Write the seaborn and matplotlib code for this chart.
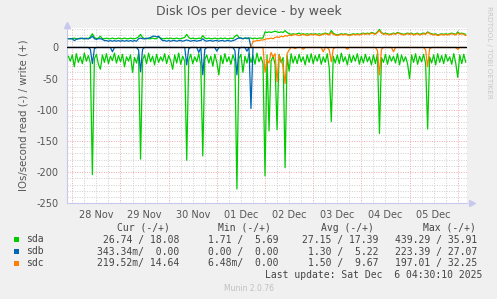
import numpy as np
import pandas as pd
import seaborn as sns
import matplotlib
matplotlib.use("Agg")
import matplotlib.pyplot as plt
from matplotlib.patches import Rectangle

sns.set_theme(style="white")
plt.rcParams['font.family'] = ['DejaVu Sans']

# ---------------- data (hourly samples, hour 0 = 28 Nov 00:00) ----------------
START_HOUR = -2
# sda reads (shown negative)
sda_read = [14, 22,
    12, 31, 10, 24, 15, 26, 9, 22, 13, 25, 204, 18, 11, 27, 35, 12, 24, 10, 26, 14, 21, 9, 25, 13,
    23, 11, 31, 15, 22, 12, 40, 16, 25, 10, 179, 20, 12, 26, 9, 23, 14, 28, 11, 24, 15, 22, 10, 26,
    13, 21, 35, 12, 25, 9, 27, 14, 22, 181, 20, 11, 26, 15, 23, 10, 28, 174, 19, 12, 25, 14, 30, 11,
    24, 44, 13, 26, 10, 23, 15, 27, 12, 22, 227, 18, 11, 40, 14, 25, 10, 24, 13, 27, 9, 23, 15, 26,
    206, 12, 134, 22, 14, 27, 132, 11, 24, 16, 193, 13, 38, 10, 25, 14, 26, 11, 23, 15, 28, 12, 24, 10,
    26, 13, 22, 11, 27, 15, 24, 10, 33, 119, 14, 25, 12, 26, 9, 23, 15, 28, 11, 24, 13, 22, 10, 27,
    14, 25, 11, 23, 15, 28, 12, 26, 10, 138, 16, 24, 11, 27, 13, 22, 14, 25, 10, 28, 12, 23, 15, 26,
    50, 12, 24, 10, 27, 14, 23, 11, 26, 131, 15, 25, 12, 28, 10, 24, 13, 26, 11, 22, 15, 27, 10, 25,
    48, 12, 26, 11, 24]
sda_write = [14, 14,
    14, 15, 14, 14, 15, 14, 14, 15, 14, 17, 22, 16, 14, 15, 18, 14, 14, 15, 14, 14, 15, 14, 14, 15,
    14, 14, 15, 14, 14, 15, 14, 14, 15, 17, 21, 16, 14, 15, 14, 14, 15, 14, 14, 17, 15, 14, 14, 15,
    14, 15, 14, 14, 15, 14, 14, 15, 16, 21, 16, 14, 15, 14, 14, 15, 14, 19, 15, 14, 15, 14, 14, 15,
    14, 14, 15, 14, 15, 14, 14, 15, 14, 18, 20, 16, 15, 14, 15, 14, 15, 15, 14, 15, 14, 15, 15, 15,
    25, 24, 25, 24, 25, 26, 25, 24, 25, 24, 27, 24, 22, 21, 22, 21, 22, 23, 21, 22, 21, 22, 21, 22,
    21, 22, 21, 22, 21, 22, 23, 22, 21, 27, 23, 21, 20, 21, 22, 21, 22, 21, 20, 21, 22, 21, 22, 21,
    22, 23, 22, 23, 22, 24, 23, 22, 25, 29, 24, 22, 23, 22, 21, 22, 23, 22, 24, 23, 22, 21, 22, 23,
    22, 23, 21, 22, 23, 21, 22, 23, 22, 25, 23, 22, 21, 22, 20, 21, 22, 21, 22, 21, 22, 23, 22, 21,
    25, 22, 23, 22, 21]
# sdb (hours -2 .. 90)
sdb_read = [0, 0,
    0, 0, 0, 0, 0, 0, 0, 0, 0, 3, 26, 2, 0, 0, 0, 0, 0, 0, 0, 0, 7, 0, 0, 0,
    0, 0, 0, 0, 0, 0, 0, 0, 0, 4, 39, 3, 0, 0, 0, 0, 0, 0, 0, 0, 0, 0, 0, 0,
    0, 0, 0, 0, 0, 0, 0, 0, 0, 28, 2, 0, 0, 0, 0, 8, 0, 44, 3, 0, 0, 0, 0, 0,
    6, 0, 0, 0, 0, 0, 0, 0, 0, 5, 44, 2, 0, 0, 0, 6, 0, 98, 0]
sdb_write = [14, 14,
    14, 11, 13, 14, 14, 15, 14, 14, 14, 15, 18, 14, 13, 14, 14, 13, 11, 11, 10, 11, 10, 11, 10, 11,
    10, 11, 10, 11, 10, 11, 10, 11, 10, 14, 15, 14, 14, 14, 15, 16, 18, 18, 17, 18, 14, 11, 11, 10,
    11, 10, 11, 11, 10, 11, 11, 10, 11, 12, 11, 10, 11, 11, 10, 11, 11, 14, 11, 10, 11, 11, 10, 11,
    11, 10, 11, 11, 10, 11, 11, 10, 11, 12, 14, 15, 15, 14, 15, 15, 15, 0, 0]
# sdc (hours 89 .. 196)
SDC_START = 89
sdc_read = [0, 0, 0, 0, 0, 0, 0,
    40, 20, 25, 8, 15, 10, 55, 12, 20, 30, 58, 10, 4, 0, 0, 2, 0, 0, 0, 3, 0, 0, 0, 0,
    0, 0, 0, 0, 0, 7, 0, 0, 4, 23, 2, 0, 0, 0, 0, 0, 0, 3, 0, 0, 0, 0, 0, 0,
    0, 0, 0, 0, 0, 0, 0, 0, 5, 44, 3, 0, 0, 0, 0, 0, 7, 0, 0, 0, 0, 0, 0, 0,
    0, 0, 0, 0, 0, 0, 0, 0, 4, 31, 2, 0, 0, 0, 0, 0, 0, 0, 0, 0, 0, 0, 0, 0,
    3, 0, 0, 0, 0]
sdc_write = [0, 10, 10, 11, 11, 12, 12,
    13, 14, 14, 15, 14, 16, 17, 16, 18, 17, 19, 18, 20, 19, 20, 21, 20, 19, 20, 21, 20, 19, 20, 21,
    20, 21, 20, 19, 20, 21, 22, 21, 20, 24, 21, 20, 19, 20, 21, 20, 21, 20, 19, 20, 21, 20, 21, 20,
    21, 22, 21, 22, 21, 23, 22, 21, 24, 27, 23, 21, 22, 21, 20, 21, 22, 21, 23, 22, 21, 20, 21, 22,
    21, 22, 20, 21, 22, 20, 21, 22, 21, 24, 22, 21, 20, 21, 19, 20, 21, 20, 21, 20, 21, 22, 21, 20,
    23, 21, 22, 21, 19]

devices = ["sda", "sdb", "sdc"]
colors = ["#00CC00", "#0066B3", "#FF8000"]
day_labels = ["28 Nov", "29 Nov", "30 Nov", "01 Dec", "02 Dec", "03 Dec", "04 Dec", "05 Dec"]
y_ticks = [-250, -200, -150, -100, -50, 0]
cur_vals = ["26.74 / 18.08", "343.34m/  0.00", "219.52m/ 14.64"]
min_vals = ["1.71 /  5.69", "0.00 /  0.00", "6.48m/  0.00"]
avg_vals = ["27.15 / 17.39", "1.30 /  5.22", "1.50 /  9.67"]
max_vals = ["439.29 / 35.91", "223.39 / 27.07", "197.01 / 32.25"]

# ---------------- build frame ----------------
def frame(vals, start, name, sign):
    t = (start + np.arange(len(vals))) / 24.0
    return pd.DataFrame({"day": t, "v": sign * np.asarray(vals, float), "s": name})

series = [
    ("sda_r", sda_read, START_HOUR, -1, colors[0]),
    ("sda_w", sda_write, START_HOUR, 1, colors[0]),
    ("sdb_r", sdb_read, START_HOUR, -1, colors[1]),
    ("sdb_w", sdb_write, START_HOUR, 1, colors[1]),
    ("sdc_r", sdc_read, SDC_START, -1, colors[2]),
    ("sdc_w", sdc_write, SDC_START, 1, colors[2]),
]

W, H = 497, 299
fig = plt.figure(figsize=(W / 100, H / 100), dpi=100, facecolor="#F0F0F0")
L, R, T, B = 66.5, 467.5, 27.5, 203.3
ax = fig.add_axes([L / W, 1 - B / H, (R - L) / W, (B - T) / H])
ax.set_facecolor("white")

x0 = (L - 72.3) / 48.18
x1 = (R - 72.3) / 48.18
ax.set_xlim(x0, x1)
ax.set_ylim(-250, 32)

# grid
for y in np.arange(-240, 31, 10):
    if y % 50 != 0:
        ax.axhline(y, color="#CFCFCF", lw=0.7, ls=(0, (1, 1.5)), zorder=0)
for y in y_ticks[:-1]:
    ax.axhline(y, color="#F0A8A8", lw=0.7, ls=(0, (1, 1.5)), zorder=0.5)
for x in np.arange(-0.0, 8.3, 0.25):
    if abs(x - round(x)) > 1e-6:
        ax.axvline(x, color="#CFCFCF", lw=0.7, ls=(0, (1, 1.5)), zorder=0)
for x in range(0, 9):
    ax.axvline(x, color="#F0A8A8", lw=0.7, ls=(0, (1, 1.5)), zorder=0.5)

for name, vals, start, sign, col in series:
    df = frame(vals, start, name, sign)
    sns.lineplot(data=df, x="day", y="v", color=col, lw=0.9, ax=ax,
                 estimator=None, sort=False, legend=False, zorder=3)

ax.axhline(0, color="black", lw=1.0, zorder=6)

# axes styling
for s in ["top", "right"]:
    ax.spines[s].set_visible(False)
for s in ["left", "bottom"]:
    ax.spines[s].set_color("#C8C8EE")
    ax.spines[s].set_linewidth(0.8)
ax.plot([0], [1.015], marker="^", color="#C8C8EE", ms=4, transform=ax.transAxes, clip_on=False, zorder=7)
ax.plot([1.012], [0], marker=">", color="#C8C8EE", ms=4, transform=ax.transAxes, clip_on=False, zorder=7)

ax.set_xticks(range(0, 9))
ax.set_xticklabels([""] * 9)
ax.set_xticks([i + 0.5 for i in range(len(day_labels))], minor=True)
ax.set_xticklabels(day_labels, minor=True)
ax.tick_params(axis="x", which="major", length=2.5, width=0.7, color="#F0A0A0", direction="out")
ax.tick_params(axis="x", which="minor", length=0, pad=4.5, labelsize=7, labelcolor="#555555")
ax.set_yticks(y_ticks)
ax.set_yticklabels([str(v) for v in y_ticks])
ax.tick_params(axis="y", length=2.5, width=0.7, color="#F0A0A0", pad=3, labelsize=7, labelcolor="#555555")
ax.set_xlabel("")
ax.set_ylabel("IOs/second read (-) / write (+)", fontsize=7.3, color="#555555", labelpad=6)

def fx(x):
    return x / W

def fy(y):
    return 1 - y / H

fig.text(fx(249), fy(11), "Disk IOs per device - by week", ha="center", va="center",
         fontsize=9, color="#555555")
fig.text(fx(489), fy(52), "RRDTOOL / TOBI OETIKER", rotation=270, ha="center", va="center",
         fontsize=5.2, color="#C8C8C8")

mono = "DejaVu Sans Mono"
fs = 7
tc = "#444444"
fig.text(fx(116.7), fy(228), "Cur (-/+)", family=mono, fontsize=fs, color=tc, va="center")
fig.text(fx(218.3), fy(228), "Min (-/+)", family=mono, fontsize=fs, color=tc, va="center")
fig.text(fx(321), fy(228), "Avg (-/+)", family=mono, fontsize=fs, color=tc, va="center")
fig.text(fx(422.7), fy(228), "Max (-/+)", family=mono, fontsize=fs, color=tc, va="center")
rows_y = [239.5, 251.5, 263.3]
for i, dev in enumerate(devices):
    y = rows_y[i]
    fig.patches.append(Rectangle((fx(14), fy(y + 2.6)), 5.2 / W, 5.2 / H, transform=fig.transFigure,
                                 facecolor=colors[i], edgecolor="none"))
    fig.text(fx(26.5), fy(y), dev, family=mono, fontsize=fs, color=tc, va="center")
    fig.text(fx(179.5), fy(y), cur_vals[i], family=mono, fontsize=fs, color=tc, va="center", ha="right")
    fig.text(fx(278.5), fy(y), min_vals[i], family=mono, fontsize=fs, color=tc, va="center", ha="right")
    fig.text(fx(378), fy(y), avg_vals[i], family=mono, fontsize=fs, color=tc, va="center", ha="right")
    fig.text(fx(477), fy(y), max_vals[i], family=mono, fontsize=fs, color=tc, va="center", ha="right")
fig.text(fx(482.5), fy(275), "Last update: Sat Dec  6 04:30:10 2025", family=mono, fontsize=fs,
         color=tc, va="center", ha="right")
fig.text(fx(248.5), fy(288.5), "Munin 2.0.76", fontsize=5.5, color="#C0C0C0", va="center", ha="center")

fig.savefig("out.png", dpi=100, facecolor=fig.get_facecolor())
